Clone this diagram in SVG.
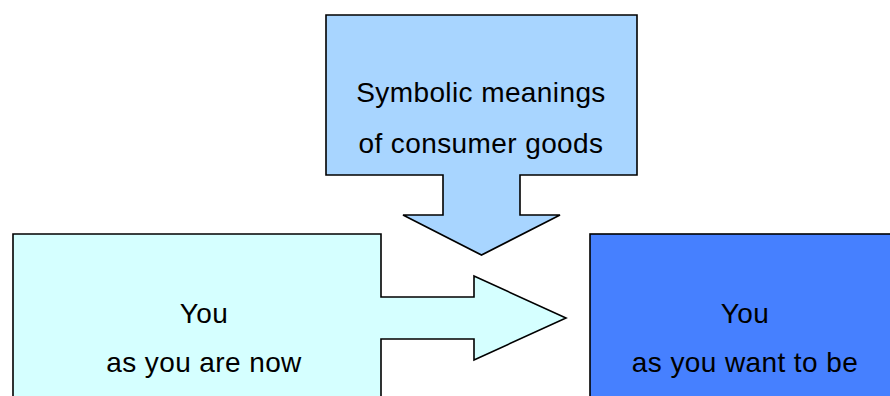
<svg xmlns="http://www.w3.org/2000/svg" width="890" height="396" viewBox="0 0 890 396">
<style>
.shape{stroke:#000;stroke-width:1.6;stroke-linejoin:miter}
.lbl{font-family:"Liberation Sans",Arial,sans-serif;font-size:28px;letter-spacing:0.4px;fill:#000;text-anchor:middle}
</style>
<rect width="890" height="396" fill="#fff"/>
<g id="symbolic">
<path class="shape" fill="#A8D5FF" d="M326,15 H637 V175 H520 V215 H560 L481.5,255 L403,215 H443 V175 H326 Z"/>
<text class="lbl" x="481" y="102">Symbolic meanings</text>
<text class="lbl" x="481" y="153">of consumer goods</text>
</g>
<g id="now">
<path class="shape" fill="#D5FFFF" d="M13,234 H381 V297 H474 V276 L566,318 L474,360 V339 H381 V410 H13 Z"/>
<text class="lbl" x="204" y="323">You</text>
<text class="lbl" x="204" y="372">as you are now</text>
</g>
<g id="want">
<rect class="shape" fill="#4680FF" x="590" y="234" width="320" height="180"/>
<text class="lbl" x="745" y="323">You</text>
<text class="lbl" x="745" y="372">as you want to be</text>
</g>
<g id="connectors"></g>
</svg>
